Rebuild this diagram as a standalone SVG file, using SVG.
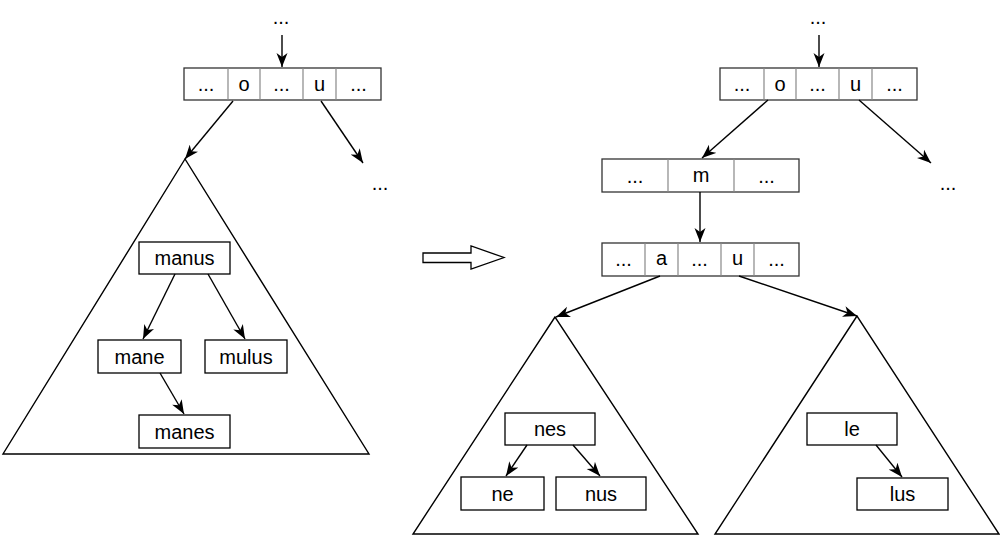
<svg xmlns="http://www.w3.org/2000/svg" width="1000" height="536" viewBox="0 0 1000 536">
<style>
text{font-family:"Liberation Sans",Arial,sans-serif;font-size:20px;fill:#000;text-anchor:middle}
.box{fill:#fff;stroke:#000;stroke-width:1.3}
.arr{fill:#fff;stroke:#333;stroke-width:1.3}
.div{stroke:#888;stroke-width:1.2}
.tri{fill:#fff;stroke:#000;stroke-width:1.4}
.edge{fill:none;stroke:#000;stroke-width:1.4;marker-end:url(#ah)}
</style>
<defs>
<marker id="ah" markerUnits="userSpaceOnUse" markerWidth="15" markerHeight="12" viewBox="0 0 15 12" refX="14" refY="6" orient="auto">
<path d="M0,0.5 L14,6 L0,11.5 L4,6 Z" fill="#000"/>
</marker>
</defs>
<rect width="1000" height="536" fill="#fff"/>

<g id="ellipsis-top-left"><text x="281" y="24">...</text></g>
<g id="array-left">
<rect class="arr" x="184" y="68" width="197" height="32"/>
<line class="div" x1="228" y1="68" x2="228" y2="100"/>
<line class="div" x1="260" y1="68" x2="260" y2="100"/>
<line class="div" x1="303" y1="68" x2="303" y2="100"/>
<line class="div" x1="336" y1="68" x2="336" y2="100"/>
<text x="206" y="91">...</text><text x="244" y="91">o</text><text x="281.5" y="91">...</text><text x="319.5" y="91">u</text><text x="358.5" y="91">...</text>
</g>
<g id="ellipsis-right-left"><text x="380" y="190">...</text></g>
<g id="triangle-left"><polygon class="tri" points="185,159 3,454 369,454"/></g>
<g id="manus"><rect class="box" x="139" y="242" width="91" height="32"/><text x="184.5" y="265">manus</text></g>
<g id="mane"><rect class="box" x="98" y="340" width="83" height="33"/><text x="139.5" y="364">mane</text></g>
<g id="mulus"><rect class="box" x="205" y="340" width="82" height="33"/><text x="246" y="364">mulus</text></g>
<g id="manes"><rect class="box" x="139" y="415" width="91" height="33"/><text x="184.5" y="439">manes</text></g>

<g id="transition"><polygon fill="#fff" stroke="#000" stroke-width="1.3" points="423,253 471,253 471,246 504,257.5 471,269 471,262.5 423,262.5"/></g>

<g id="ellipsis-top-right"><text x="818" y="24">...</text></g>
<g id="array-right">
<rect class="arr" x="720" y="68" width="197" height="32"/>
<line class="div" x1="764" y1="68" x2="764" y2="100"/>
<line class="div" x1="796" y1="68" x2="796" y2="100"/>
<line class="div" x1="839" y1="68" x2="839" y2="100"/>
<line class="div" x1="872" y1="68" x2="872" y2="100"/>
<text x="742" y="91">...</text><text x="780" y="91">o</text><text x="817.5" y="91">...</text><text x="855.5" y="91">u</text><text x="894.5" y="91">...</text>
</g>
<g id="ellipsis-right-right"><text x="948" y="190">...</text></g>
<g id="array-m">
<rect class="arr" x="602" y="159" width="197" height="33"/>
<line class="div" x1="668" y1="159" x2="668" y2="192"/>
<line class="div" x1="734" y1="159" x2="734" y2="192"/>
<text x="635" y="183">...</text><text x="701" y="182">m</text><text x="766.5" y="183">...</text>
</g>
<g id="array-a">
<rect class="arr" x="602" y="243" width="197" height="33"/>
<line class="div" x1="645" y1="243" x2="645" y2="276"/>
<line class="div" x1="678" y1="243" x2="678" y2="276"/>
<line class="div" x1="721" y1="243" x2="721" y2="276"/>
<line class="div" x1="754" y1="243" x2="754" y2="276"/>
<text x="623.5" y="266">...</text><text x="661.5" y="265">a</text><text x="699.5" y="266">...</text><text x="737.5" y="265">u</text><text x="776.5" y="266">...</text>
</g>
<g id="triangle-a"><polygon class="tri" points="555,317 413,534 698,534"/></g>
<g id="triangle-u"><polygon class="tri" points="857,316 715,534 999,534"/></g>
<g id="nes"><rect class="box" x="505" y="413" width="90" height="32"/><text x="550" y="436">nes</text></g>
<g id="ne"><rect class="box" x="461" y="477" width="83" height="33"/><text x="502.5" y="501">ne</text></g>
<g id="nus"><rect class="box" x="556" y="477" width="90" height="33"/><text x="601" y="501">nus</text></g>
<g id="le"><rect class="box" x="807" y="413" width="90" height="32"/><text x="852" y="436">le</text></g>
<g id="lus"><rect class="box" x="857" y="478" width="91" height="32"/><text x="902.5" y="501">lus</text></g>

<g id="connectors">
<line class="edge" x1="282" y1="35" x2="282" y2="67"/>
<line class="edge" x1="233" y1="101" x2="185" y2="159"/>
<line class="edge" x1="321" y1="101" x2="363" y2="163"/>
<line class="edge" x1="175" y1="274" x2="143" y2="339"/>
<line class="edge" x1="208" y1="274" x2="245" y2="339"/>
<line class="edge" x1="160" y1="373" x2="184" y2="414"/>
<line class="edge" x1="819" y1="35" x2="819" y2="67"/>
<line class="edge" x1="768" y1="100" x2="702" y2="158"/>
<line class="edge" x1="859" y1="100" x2="931" y2="163"/>
<line class="edge" x1="700" y1="192" x2="700" y2="242"/>
<line class="edge" x1="660" y1="276" x2="556" y2="317"/>
<line class="edge" x1="739" y1="276" x2="857" y2="316"/>
<line class="edge" x1="527" y1="445" x2="506" y2="476"/>
<line class="edge" x1="573" y1="445" x2="600" y2="476"/>
<line class="edge" x1="876" y1="445" x2="902" y2="477"/>
</g>
</svg>
